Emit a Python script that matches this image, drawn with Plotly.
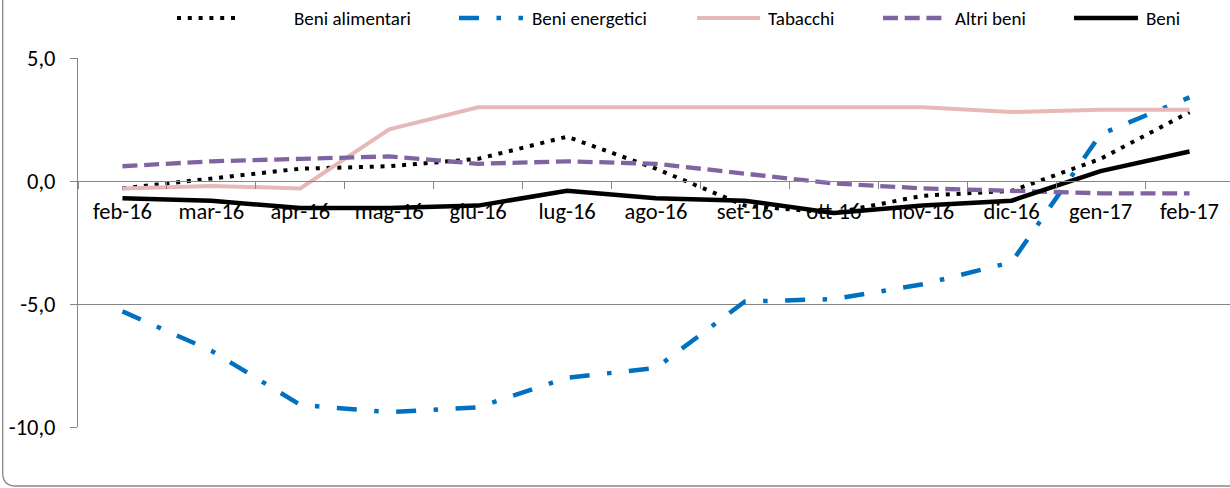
import plotly.graph_objects as go

# ---- data -------------------------------------------------------------
mesi = ["feb-16", "mar-16", "apr-16", "mag-16", "giu-16", "lug-16", "ago-16",
        "set-16", "ott-16", "nov-16", "dic-16", "gen-17", "feb-17"]

beni_alimentari = [-0.3, 0.1, 0.5, 0.6, 0.9, 1.8, 0.5, -1.0, -1.3, -0.6, -0.4, 0.9, 2.8]
beni_energetici = [-5.3, -6.9, -9.1, -9.4, -9.2, -8.0, -7.6, -4.9, -4.8, -4.2, -3.3, 1.9, 3.4]
tabacchi = [-0.3, -0.2, -0.3, 2.1, 3.0, 3.0, 3.0, 3.0, 3.0, 3.0, 2.8, 2.9, 2.9]
altri_beni = [0.6, 0.8, 0.9, 1.0, 0.7, 0.8, 0.7, 0.3, -0.1, -0.3, -0.4, -0.5, -0.5]
beni = [-0.7, -0.8, -1.1, -1.1, -1.0, -0.4, -0.7, -0.8, -1.3, -1.0, -0.8, 0.4, 1.2]

y_tickvals = [5, 0, -5, -10]
y_ticktext = ["5,0", "0,0", "-5,0", "-10,0"]

series_names = ["Beni alimentari", "Beni energetici", "Tabacchi", "Altri beni", "Beni"]
series_values = [beni_alimentari, beni_energetici, tabacchi, altri_beni, beni]

# ---- styling ----------------------------------------------------------
W, H = 1230, 488
M_L, M_R, M_T, M_B = 78, 0, 58, 61
PLOT_W = W - M_L - M_R
PLOT_H = H - M_T - M_B
BAND = 88.92  # pixel width of one month band

GRID = "#868686"
FONT = "Calibri, Carlito, Lato, sans-serif"

styles = [
    dict(color="#000000", width=4, dash="4px,6.8px"),
    dict(color="#0070C0", width=4.5, dash="20px,17.5px,4.5px,17.5px"),
    dict(color="#E6B9B8", width=4, dash="solid"),
    dict(color="#8064A2", width=4.3, dash="15px,6.7px"),
    dict(color="#000000", width=4.5, dash="solid"),
]

fig = go.Figure()
for name, vals, st in zip(series_names, series_values, styles):
    fig.add_trace(go.Scatter(
        x=mesi, y=vals, name=name, mode="lines",
        line=dict(color=st["color"], width=st["width"], dash=st["dash"]),
        showlegend=False, hoverinfo="x+y+name",
    ))


def px_x(px):
    return (px - M_L) / PLOT_W


def px_y(py):
    return (H - M_B - py) / PLOT_H


# ---- legend row drawn along the top ---------------------------------
legend_y = 18
legend_lines = [(177, 237), (459, 523), (697, 760), (883, 942), (1074, 1138)]
legend_text_x = [292, 530, 766, 953, 1144]
shapes = []
annotations = []
for name, st, (x0, x1), tx in zip(series_names, styles, legend_lines, legend_text_x):
    shapes.append(dict(
        type="line", xref="paper", yref="paper",
        x0=px_x(x0), x1=px_x(x1), y0=px_y(legend_y), y1=px_y(legend_y),
        line=dict(color=st["color"], width=st["width"], dash=st["dash"]),
    ))
    annotations.append(dict(
        xref="paper", yref="paper", x=px_x(tx), y=px_y(legend_y),
        xanchor="left", yanchor="middle", showarrow=False, text=name,
        font=dict(family=FONT, size=19, color="#000000"),
    ))

# ---- rounded chart frame (left and bottom edges) ---------------------
fl, fb, ft, fr, rad = 2.7, 486, -5, W + 5, 13
xl, yb = px_x(fl), px_y(fb)
frame_path = (
    f"M {xl},{px_y(ft)} L {xl},{px_y(fb - rad)} "
    f"Q {xl},{yb} {px_x(fl + rad)},{yb} L {px_x(fr)},{yb}"
)
shapes.append(dict(type="path", xref="paper", yref="paper", path=frame_path,
                   line=dict(color=GRID, width=1.3)))

y_min, y_max = -10, 5
fig.update_layout(
    template="none",
    width=W, height=H,
    margin=dict(l=M_L, r=M_R, t=M_T, b=M_B, pad=0),
    paper_bgcolor="white", plot_bgcolor="white",
    font=dict(family=FONT, color="#000000"),
    showlegend=False,
    shapes=shapes,
    annotations=annotations,
    xaxis=dict(
        type="category",
        range=[-0.5, -0.5 + PLOT_W / BAND],
        anchor="free", position=(0 - y_min) / (y_max - y_min),
        showline=True, linecolor=GRID, linewidth=1,
        ticks="outside", tickson="boundaries", ticklen=7, tickcolor=GRID, tickwidth=1,
        showgrid=False, zeroline=False,
        tickfont=dict(family=FONT, size=22.5, color="#000000"),
        ticklabelstandoff=10,
        fixedrange=True,
    ),
    yaxis=dict(
        range=[y_min, y_max],
        tickvals=y_tickvals, ticktext=y_ticktext,
        showline=True, linecolor=GRID, linewidth=1,
        ticks="outside", ticklen=7, tickcolor=GRID, tickwidth=1,
        showgrid=True, gridcolor=GRID, gridwidth=1,
        zeroline=False,
        tickfont=dict(family=FONT, size=22.5, color="#000000"),
        ticklabelstandoff=10,
        fixedrange=True,
    ),
)

fig.write_html("out.html")
